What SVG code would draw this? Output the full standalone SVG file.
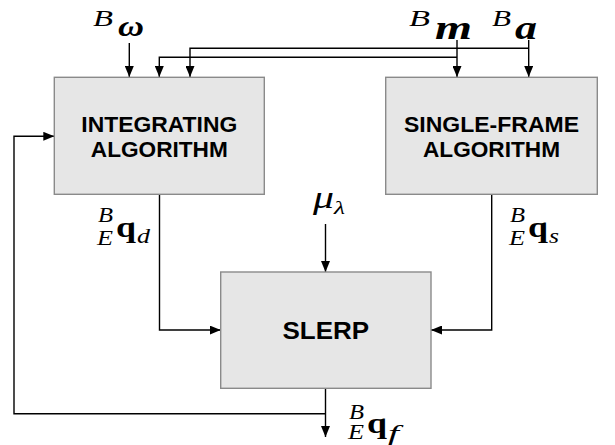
<svg xmlns="http://www.w3.org/2000/svg" width="615" height="445" viewBox="0 0 615 445">
<style>
.box{fill:#e6e6e6;stroke:#8a8a8a;stroke-width:1.4}
.lbl{font-family:"Liberation Sans",Arial,sans-serif;font-weight:bold;fill:#000;text-anchor:middle}
.ln{fill:none;stroke:#000;stroke-width:1.4}
.arr{marker-end:url(#ah)}
.it{font-family:"Liberation Serif","DejaVu Serif",serif;font-style:italic;font-weight:normal;fill:#000}
.bf{font-family:"Liberation Serif","DejaVu Serif",serif;font-weight:bold;fill:#000}
.bi{font-family:"Liberation Serif","DejaVu Serif",serif;font-weight:bold;font-style:italic;fill:#000}
</style>
<defs>
<marker id="ah" markerUnits="userSpaceOnUse" markerWidth="12" markerHeight="9" refX="11" refY="4.5" orient="auto">
<path d="M0,0 L11,4.5 L0,9 z" fill="#000"/>
</marker>
</defs>
<rect width="615" height="445" fill="#fff"/>
<g id="connectors">
<path class="ln arr" d="M129.3,43 V77"/>
<path class="ln arr" d="M457,40 V77"/>
<path class="ln arr" d="M528.7,40 V77"/>
<path class="ln arr" d="M457,57.3 H159.3 V77"/>
<path class="ln arr" d="M528.7,48.3 H190 V77"/>
<path class="ln arr" d="M159.5,194.3 V330 H220.7"/>
<path class="ln arr" d="M491.7,194.3 V330 H431"/>
<path class="ln arr" d="M325.5,224 V272"/>
<path class="ln arr" d="M325.5,388.3 V437"/>
<path class="ln arr" d="M325.5,413.7 H14 V136.3 H54.3"/>
</g>
<g id="integrating">
<rect class="box" x="54.3" y="77.3" width="210" height="117"/>
<text class="lbl" x="159.3" y="131.7" font-size="21.5" textLength="156" lengthAdjust="spacingAndGlyphs">INTEGRATING</text>
<text class="lbl" x="159.3" y="156.7" font-size="21.5" textLength="137" lengthAdjust="spacingAndGlyphs">ALGORITHM</text>
</g>
<g id="singleframe">
<rect class="box" x="385.7" y="77.3" width="211.6" height="117"/>
<text class="lbl" x="491.5" y="131.7" font-size="21.5" textLength="175" lengthAdjust="spacingAndGlyphs">SINGLE-FRAME</text>
<text class="lbl" x="491.5" y="156.7" font-size="21.5" textLength="137" lengthAdjust="spacingAndGlyphs">ALGORITHM</text>
</g>
<g id="slerp">
<rect class="box" x="220.7" y="272" width="210.3" height="116.3"/>
<text class="lbl" x="325.8" y="339.3" font-size="23.5" textLength="86.6" lengthAdjust="spacingAndGlyphs">SLERP</text>
</g>
<g id="labels">
<text class="it" x="93" y="26" font-size="23" textLength="20" lengthAdjust="spacingAndGlyphs">B</text>
<text class="bi" x="118" y="36" font-size="30" textLength="26" lengthAdjust="spacingAndGlyphs">ω</text>
<text class="it" x="409" y="26" font-size="23" textLength="21" lengthAdjust="spacingAndGlyphs">B</text>
<text class="bi" x="435" y="39" font-size="34" textLength="37" lengthAdjust="spacingAndGlyphs">m</text>
<text class="it" x="492" y="26" font-size="23" textLength="19" lengthAdjust="spacingAndGlyphs">B</text>
<text class="bi" x="515" y="39" font-size="34" textLength="22" lengthAdjust="spacingAndGlyphs">a</text>
<text class="it" x="313" y="208" font-size="31" textLength="21" lengthAdjust="spacingAndGlyphs">μ</text>
<text class="it" x="334" y="214" font-size="18" textLength="11" lengthAdjust="spacingAndGlyphs">λ</text>
<text class="it" x="98" y="222" font-size="20" textLength="15" lengthAdjust="spacingAndGlyphs">B</text>
<text class="it" x="97" y="245" font-size="20" textLength="16" lengthAdjust="spacingAndGlyphs">E</text>
<text class="bf" x="116" y="237" font-size="30" textLength="20" lengthAdjust="spacingAndGlyphs">q</text>
<text class="it" x="137" y="243" font-size="22" textLength="13" lengthAdjust="spacingAndGlyphs">d</text>
<text class="it" x="510" y="222" font-size="20" textLength="15" lengthAdjust="spacingAndGlyphs">B</text>
<text class="it" x="509" y="245" font-size="20" textLength="16" lengthAdjust="spacingAndGlyphs">E</text>
<text class="bf" x="528" y="237" font-size="30" textLength="20" lengthAdjust="spacingAndGlyphs">q</text>
<text class="it" x="549" y="243" font-size="22" textLength="10" lengthAdjust="spacingAndGlyphs">s</text>
<text class="it" x="349" y="419" font-size="20" textLength="15" lengthAdjust="spacingAndGlyphs">B</text>
<text class="it" x="348" y="439" font-size="20" textLength="16" lengthAdjust="spacingAndGlyphs">E</text>
<text class="bf" x="367" y="433" font-size="30" textLength="20" lengthAdjust="spacingAndGlyphs">q</text>
<text class="it" x="388" y="440" font-size="22" textLength="11" lengthAdjust="spacingAndGlyphs">f</text>
</g>
</svg>
